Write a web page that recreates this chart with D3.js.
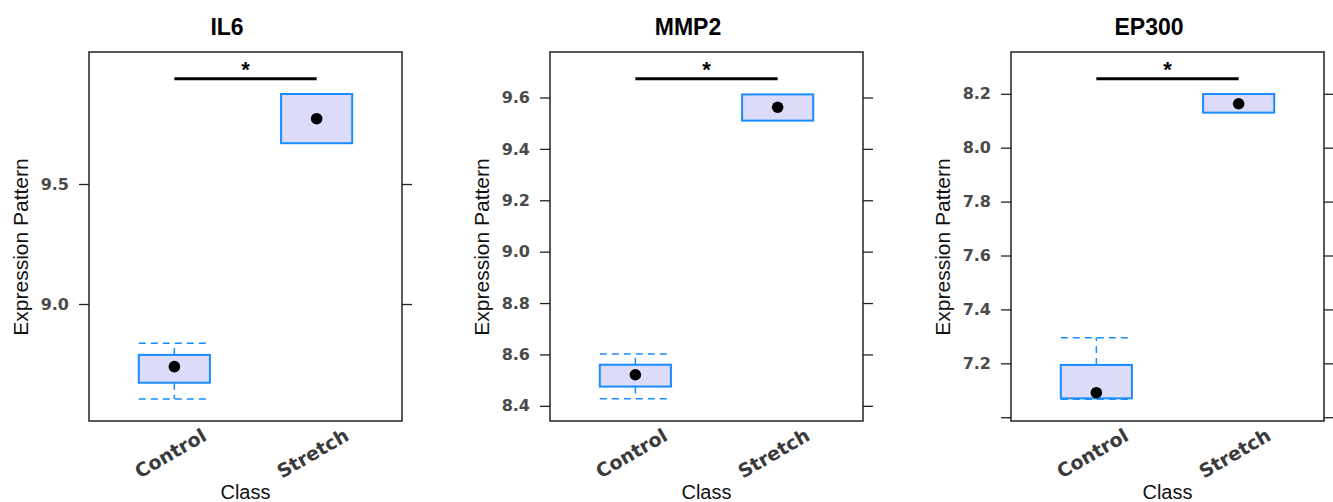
<!DOCTYPE html>
<html>
<head>
<meta charset="utf-8">
<script src="https://cdn.jsdelivr.net/npm/d3@7"></script>
<style>
  html, body { margin: 0; padding: 0; background: #fff; }
  svg { display: block; }
</style>
</head>
<body>
<div id="chart"></div>
<script>
// Box plots of expression by class, one panel per gene

const genes = ['IL6', 'MMP2', 'EP300'];
const classes = ['Control', 'Stretch'];

// [lower whisker, Q1, median, Q3, upper whisker] for Control, Stretch
const il6Stats   = [[8.604, 8.672, 8.739, 8.788, 8.836], [9.670, 9.670, 9.772, 9.875, 9.875]];
const mmp2Stats  = [[8.428, 8.475, 8.521, 8.560, 8.602], [9.510, 9.510, 9.562, 9.612, 9.612]];
const ep300Stats = [[7.067, 7.070, 7.091, 7.194, 7.295], [8.130, 8.130, 8.163, 8.199, 8.199]];

const yDomains = [[8.5125, 10.05], [8.341, 9.777], [6.986, 8.355]];
const yTicks = [
  [9.0, 9.5],
  [8.4, 8.6, 8.8, 9.0, 9.2, 9.4, 9.6],
  [7.0, 7.2, 7.4, 7.6, 7.8, 8.0, 8.2]
];
const yTickLabels = [
  ['9.0', '9.5'],
  ['8.4', '8.6', '8.8', '9.0', '9.2', '9.4', '9.6'],
  ['', '7.2', '7.4', '7.6', '7.8', '8.0', '8.2']
];
// height of the significance bar in each panel
const sigLevels = [9.939, 9.673, 8.256];
const sigMarks = ['*', '*', '*'];

const allStats = [il6Stats, mmp2Stats, ep300Stats];

const W = 1333, H = 502;
const panelLeft = [89, 550, 1011];
const panelW = 313, panelTop = 52, panelH = 369;

const BLUE = '#1a8cff';
const FILL = '#dcdcfa';

const svg = d3.select('#chart').append('svg')
  .attr('width', W).attr('height', H);

genes.forEach((gene, gi) => {
  const x0 = panelLeft[gi];
  const g = svg.append('g').attr('transform', `translate(${x0},${panelTop})`);

  const x = d3.scalePoint().domain(classes).range([0, panelW]).padding(0.6);
  const y = d3.scaleLinear().domain(yDomains[gi]).range([panelH, 0]);
  const bw = x.step() * 0.5;

  // title
  svg.append('text')
    .attr('x', x0 + 138).attr('y', 35)
    .attr('text-anchor', 'middle')
    .attr('font-family', 'Liberation Sans, Arial, sans-serif')
    .attr('font-weight', 'bold').attr('font-size', 23)
    .attr('fill', '#000')
    .text(gene);

  // y axis left with labels
  const labels = yTickLabels[gi];
  const ticks = yTicks[gi];
  const axL = g.append('g').call(
    d3.axisLeft(y).tickValues(ticks).tickSize(10).tickPadding(10)
      .tickFormat((d, i) => labels[i])
  );
  axL.select('.domain').remove();
  axL.selectAll('line').attr('stroke', '#222').attr('stroke-width', 1.3);
  axL.selectAll('text')
    .attr('font-family', 'DejaVu Sans, sans-serif')
    .attr('font-weight', 'bold').attr('font-size', 16)
    .attr('fill', '#4a4a4a');

  // y axis right, ticks only
  const axR = g.append('g').attr('transform', `translate(${panelW},0)`)
    .call(d3.axisRight(y).tickValues(ticks).tickSize(10).tickFormat(''));
  axR.select('.domain').remove();
  axR.selectAll('line').attr('stroke', '#222').attr('stroke-width', 1.3);

  // boxes
  const stats = allStats[gi];
  const box = g.selectAll('g.box')
    .data(classes.map((c, i) => ({ cls: c, s: stats[i] })))
    .join('g').attr('class', 'box');

  // whisker stems
  box.append('line')
    .attr('x1', d => x(d.cls)).attr('x2', d => x(d.cls))
    .attr('y1', d => y(d.s[3])).attr('y2', d => y(d.s[4]))
    .attr('stroke', BLUE).attr('stroke-width', 1.5)
    .attr('stroke-dasharray', '7,5');
  box.append('line')
    .attr('x1', d => x(d.cls)).attr('x2', d => x(d.cls))
    .attr('y1', d => y(d.s[1])).attr('y2', d => y(d.s[0]))
    .attr('stroke', BLUE).attr('stroke-width', 1.5)
    .attr('stroke-dasharray', '7,5');

  // whisker caps (only when they stand apart from the box)
  [0, 4].forEach(k => {
    box.filter(d => Math.abs(d.s[k] - d.s[k === 0 ? 1 : 3]) > 1e-9)
      .append('line')
      .attr('x1', d => x(d.cls) - bw / 2).attr('x2', d => x(d.cls) + bw / 2)
      .attr('y1', d => y(d.s[k])).attr('y2', d => y(d.s[k]))
      .attr('stroke', BLUE).attr('stroke-width', 1.5)
      .attr('stroke-dasharray', '7,5');
  });

  box.append('rect')
    .attr('x', d => x(d.cls) - bw / 2)
    .attr('y', d => y(d.s[3]))
    .attr('width', bw)
    .attr('height', d => y(d.s[1]) - y(d.s[3]))
    .attr('fill', FILL)
    .attr('stroke', BLUE).attr('stroke-width', 2);

  box.append('circle')
    .attr('cx', d => x(d.cls)).attr('cy', d => y(d.s[2]))
    .attr('r', 5.8).attr('fill', '#000');

  // significance bar
  const sy = y(sigLevels[gi]);
  g.append('line')
    .attr('x1', x(classes[0])).attr('x2', x(classes[1]))
    .attr('y1', sy).attr('y2', sy)
    .attr('stroke', '#000').attr('stroke-width', 3);
  g.append('text')
    .attr('x', (x(classes[0]) + x(classes[1])) / 2).attr('y', sy - 2)
    .attr('text-anchor', 'middle')
    .attr('font-family', 'Liberation Sans, Arial, sans-serif')
    .attr('font-weight', 'bold').attr('font-size', 22)
    .text(sigMarks[gi]);

  // frame
  g.append('rect')
    .attr('x', 0).attr('y', 0).attr('width', panelW).attr('height', panelH)
    .attr('fill', 'none').attr('stroke', '#222').attr('stroke-width', 1.5);

  // x tick labels, rotated
  g.selectAll('text.xl')
    .data(classes)
    .join('text').attr('class', 'xl')
    .attr('transform', d => `translate(${x(d) - 4},${453 - panelTop}) rotate(-30)`)
    .attr('text-anchor', 'middle')
    .attr('dominant-baseline', 'central')
    .attr('font-family', 'DejaVu Sans, sans-serif')
    .attr('font-weight', 'bold').attr('font-size', 19)
    .attr('fill', '#3a3a3a')
    .text(d => d);

  // axis titles
  svg.append('text')
    .attr('x', x0 + panelW / 2).attr('y', 499)
    .attr('text-anchor', 'middle')
    .attr('font-family', 'Liberation Sans, Arial, sans-serif')
    .attr('font-size', 20).attr('fill', '#111')
    .text('Class');

  svg.append('text')
    .attr('transform', `translate(${x0 - 69},247) rotate(-90)`)
    .attr('text-anchor', 'middle')
    .attr('dominant-baseline', 'central')
    .attr('font-family', 'Liberation Sans, Arial, sans-serif')
    .attr('font-size', 21).attr('fill', '#111')
    .text('Expression Pattern');
});
</script>
</body>
</html>
